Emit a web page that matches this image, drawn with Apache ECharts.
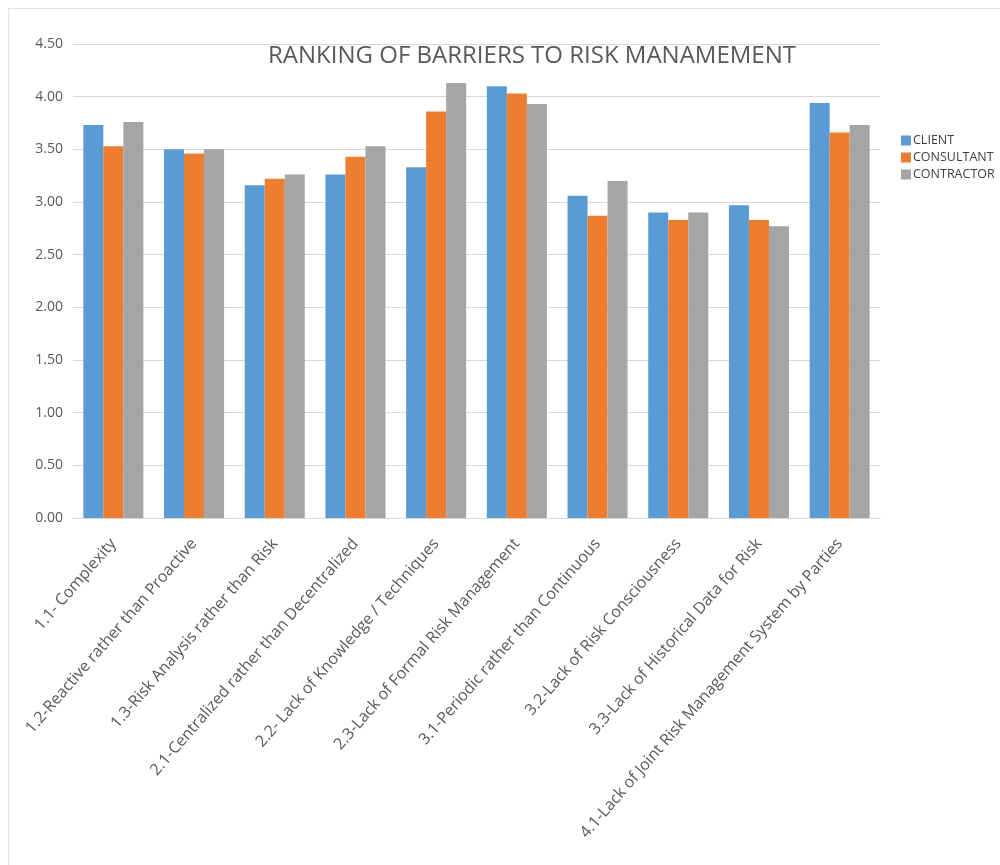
<!DOCTYPE html>
<html>
<head>
<meta charset="utf-8">
<script src="https://cdn.jsdelivr.net/npm/echarts@6/dist/echarts.min.js"></script>
<style>
  html, body {margin:0;padding:0;background:#fff;}
  #chart {width:1000px;height:865px;}
</style>
</head>
<body>
<div id="chart"></div>
<script>
  // barrier categories
  var categories = [
    '1.1- Complexity',
    '1.2-Reactive rather than Proactive',
    '1.3-Risk Analysis rather than Risk',
    '2.1-Centralized rather than Decentralized',
    '2.2- Lack of Knowledge / Techniques',
    '2.3-Lack of Formal Risk Management',
    '3.1-Periodic rather than Continuous',
    '3.2-Lack of Risk Consciousness',
    '3.3-Lack of Historical Data for Risk',
    '4.1-Lack of Joint Risk Management System by Parties'
  ]
  var clientVals     = [3.73, 3.50, 3.16, 3.26, 3.33, 4.10, 3.06, 2.90, 2.97, 3.94]
  var consultantVals = [3.53, 3.46, 3.22, 3.43, 3.86, 4.03, 2.87, 2.83, 2.83, 3.66]
  var contractorVals = [3.76, 3.50, 3.26, 3.53, 4.13, 3.93, 3.20, 2.90, 2.77, 3.73]

  var font = '"Open Sans", sans-serif'
  var myChart = echarts.init(document.getElementById('chart'))

  var option = {
    backgroundColor: '#fff',
    textStyle: {fontFamily: font},
    title: {
      text: 'RANKING OF BARRIERS TO RISK MANAMEMENT',
      left: 527,
      textAlign: 'center',
      top: 39,
      textStyle: {fontSize: 24, fontWeight: 'normal', color: '#595959', fontFamily: font}
    },
    legend: {
      orient: 'vertical',
      left: 896,
      top: 129,
      itemWidth: 10,
      itemHeight: 10,
      itemGap: 4,
      icon: 'rect',
      textStyle: {fontSize: 12.5, color: '#404040', padding: [0, 0, 0, -3]},
      data: ['CLIENT', 'CONSULTANT', 'CONTRACTOR']
    },
    graphic: [{
      type: 'rect',
      shape: {x: 8.5, y: 8.5, width: 1000, height: 900},
      style: {fill: 'none', stroke: '#e3e3e3', lineWidth: 1},
      silent: true
    }],
    grid: {left: 73, right: 120, top: 44, bottom: 347},
    xAxis: {
      type: 'category',
      data: categories,
      axisLine: {lineStyle: {color: '#d9d9d9'}},
      axisTick: {show: false},
      axisLabel: {
        rotate: 49,
        interval: 0,
        color: '#595959',
        fontSize: 16,
        margin: 23
      }
    },
    yAxis: {
      type: 'value',
      min: 0,
      max: 4.5,
      interval: 0.5,
      axisLine: {show: false},
      axisTick: {show: false},
      axisLabel: {
        color: '#595959',
        fontSize: 14,
        margin: 10,
        formatter: function (v) { return v.toFixed(2) }
      },
      splitLine: {lineStyle: {color: '#d9d9d9'}}
    },
    series: [
      {name: 'CLIENT', type: 'bar', data: clientVals, barGap: 0, barCategoryGap: '25.6%',
        itemStyle: {color: '#5B9BD5'}},
      {name: 'CONSULTANT', type: 'bar', data: consultantVals, barGap: 0, barCategoryGap: '25.6%',
        itemStyle: {color: '#ED7D31'}},
      {name: 'CONTRACTOR', type: 'bar', data: contractorVals, barGap: 0, barCategoryGap: '25.6%',
        itemStyle: {color: '#A5A5A5'}}
    ]
  }
  myChart.setOption(option)
</script>
</body>
</html>
